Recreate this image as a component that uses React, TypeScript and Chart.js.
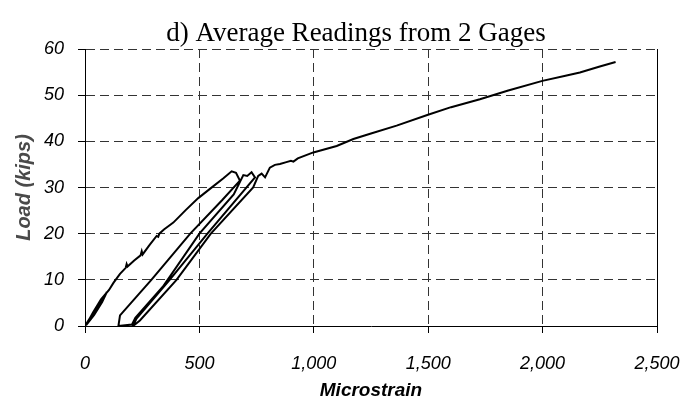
import React, { useEffect, useRef } from "react";
import { Chart, registerables } from "chart.js";

Chart.register(...registerables);

const chartTitle = "d) Average Readings from 2 Gages";
const xAxisTitle = "Microstrain";
const yAxisTitle = "Load (kips)";

// Initial loading from zero up to the first peak
const initialStrain = [0, 30, 60, 95, 75, 40, 5, 35, 70, 105, 125, 153, 178, 182, 186, 215, 243, 248, 252, 280, 313, 320, 325, 345, 386, 440, 495, 546, 605, 641, 660, 677];
const initialLoad = [0, 2.4, 4.8, 7.3, 5.2, 2.4, 0.2, 2.9, 5.8, 7.8, 9.4, 11.3, 12.6, 13.4, 12.9, 14.2, 15.3, 16.2, 15.5, 17.4, 19.5, 19.3, 20.0, 20.9, 22.4, 25.1, 27.7, 29.7, 32.0, 33.5, 33.2, 31.5];

// First unloading and reloading
const unloadAStrain = [677, 600, 460, 290, 153, 146];
const unloadALoad = [31.5, 27.3, 20.0, 10.0, 2.3, 0];
const reloadAStrain = [146, 205, 220, 340, 500, 650, 692, 709, 728];
const reloadALoad = [0, 0.3, 1.8, 8.5, 20.0, 28.5, 32.7, 32.5, 33.3];

// Second unloading and reloading
const unloadBStrain = [728, 743, 535, 370, 225, 210];
const unloadBLoad = [33.3, 32.2, 20.0, 10.0, 1.6, 0];
const reloadBStrain = [210, 240, 400, 550, 735, 757, 772, 787, 801];
const reloadBLoad = [0, 1.2, 10.0, 20.0, 30.0, 32.5, 33.0, 32.2, 33.6];

// Final loading to the end of the test
const finalStrain = [801, 808, 830, 852, 880, 900, 911, 930, 998, 1100, 1173, 1250, 1362, 1496, 1600, 1726, 1850, 1999, 2100, 2163, 2250, 2319];
const finalLoad = [33.6, 34.3, 34.9, 35.1, 35.5, 35.8, 35.6, 36.3, 37.6, 39.0, 40.5, 41.7, 43.4, 45.7, 47.4, 49.1, 51.0, 53.1, 54.2, 54.9, 56.2, 57.2];

const xTicks = [0, 500, 1000, 1500, 2000, 2500];
const yTicks = [0, 10, 20, 30, 40, 50, 60];

const segments: [number[], number[]][] = [
  [initialStrain, initialLoad],
  [unloadAStrain, unloadALoad],
  [reloadAStrain, reloadALoad],
  [unloadBStrain, unloadBLoad],
  [reloadBStrain, reloadBLoad],
  [finalStrain, finalLoad],
];

const extrasPlugin = {
  id: "extras",
  afterDraw(chart: any) {
    const { ctx, chartArea } = chart;
    ctx.save();
    // right border of plot
    ctx.strokeStyle = "#000";
    ctx.lineWidth = 1;
    ctx.setLineDash([]);
    const rx = Math.round(chartArea.right) + 0.5;
    ctx.beginPath();
    ctx.moveTo(rx, chartArea.top);
    ctx.lineTo(rx, chartArea.bottom);
    ctx.stroke();
    // main title
    ctx.fillStyle = "#000";
    ctx.font = '27px "Liberation Serif", "Times New Roman", serif';
    ctx.textAlign = "center";
    ctx.textBaseline = "alphabetic";
    ctx.fillText(chartTitle, 356, 41);
    ctx.restore();
  },
};

export default function App() {
  const canvasRef = useRef<HTMLCanvasElement | null>(null);

  useEffect(() => {
    if (!canvasRef.current) return;
    const points: { x: number; y: number }[] = [];
    segments.forEach(([xs, ys]) => {
      xs.forEach((x, i) => points.push({ x, y: ys[i] }));
    });

    const tickFont = { family: '"Liberation Sans", Arial, sans-serif', size: 18, style: "italic" as const };

    const chart = new Chart(canvasRef.current, {
      type: "scatter",
      data: {
        datasets: [
          {
            data: points,
            showLine: true,
            borderColor: "#000",
            borderWidth: 2,
            pointRadius: 0,
            tension: 0,
            fill: false,
          },
        ],
      },
      plugins: [extrasPlugin],
      options: {
        responsive: false,
        animation: false,
        layout: { padding: { top: 49, right: 39, left: 0, bottom: 0 } },
        plugins: {
          legend: { display: false },
          title: { display: false },
          tooltip: { enabled: false },
        },
        scales: {
          x: {
            type: "linear",
            min: 0,
            max: 2500,
            afterBuildTicks: (scale: any) => {
              scale.ticks = xTicks.map((v) => ({ value: v }));
            },
            afterFit: (scale: any) => {
              scale.height = 78;
              scale.paddingLeft = 0;
              scale.paddingRight = 0;
            },
            ticks: {
              color: "#000",
              font: tickFont,
              padding: 20,
              maxRotation: 0,
              callback: (v: any) => Number(v).toLocaleString("en-US"),
            },
            grid: {
              color: (c: any) => (c.tick && (c.tick.value === 0 || c.tick.value === 2500) ? "rgba(0,0,0,0)" : "#333"),
              tickColor: "#000",
              tickLength: 7,
              lineWidth: 1,
            },
            border: { display: true, color: "#000", width: 1, dash: [9, 5] },
            title: {
              display: true,
              text: xAxisTitle,
              color: "#000",
              font: { family: '"Liberation Sans", Arial, sans-serif', size: 19, style: "italic", weight: "bold" },
              padding: { top: 0, bottom: 2 },
            },
          },
          y: {
            type: "linear",
            min: 0,
            max: 60,
            afterBuildTicks: (scale: any) => {
              scale.ticks = yTicks.map((v) => ({ value: v }));
            },
            afterFit: (scale: any) => {
              scale.width = 85;
              scale.paddingTop = 0;
              scale.paddingBottom = 0;
            },
            ticks: {
              color: "#000",
              font: tickFont,
              padding: 14,
            },
            grid: {
              color: (c: any) => (c.tick && c.tick.value === 0 ? "rgba(0,0,0,0)" : "#333"),
              tickColor: "#000",
              tickLength: 7,
              lineWidth: 1,
            },
            border: { display: true, color: "#000", width: 1, dash: [9, 5] },
            title: {
              display: true,
              text: yAxisTitle,
              color: "#4a4a4a",
              font: { family: '"Liberation Sans", Arial, sans-serif', size: 20, style: "italic", weight: "bold" },
              padding: { top: 12, bottom: 0 },
            },
          },
        },
      },
    });
    return () => chart.destroy();
  }, []);

  return (
    <div style={{ position: "fixed", left: 0, top: 0, width: 696, height: 404, background: "#fff" }}>
      <canvas ref={canvasRef} width={696} height={404} style={{ display: "block", width: 696, height: 404 }} />
    </div>
  );
}
